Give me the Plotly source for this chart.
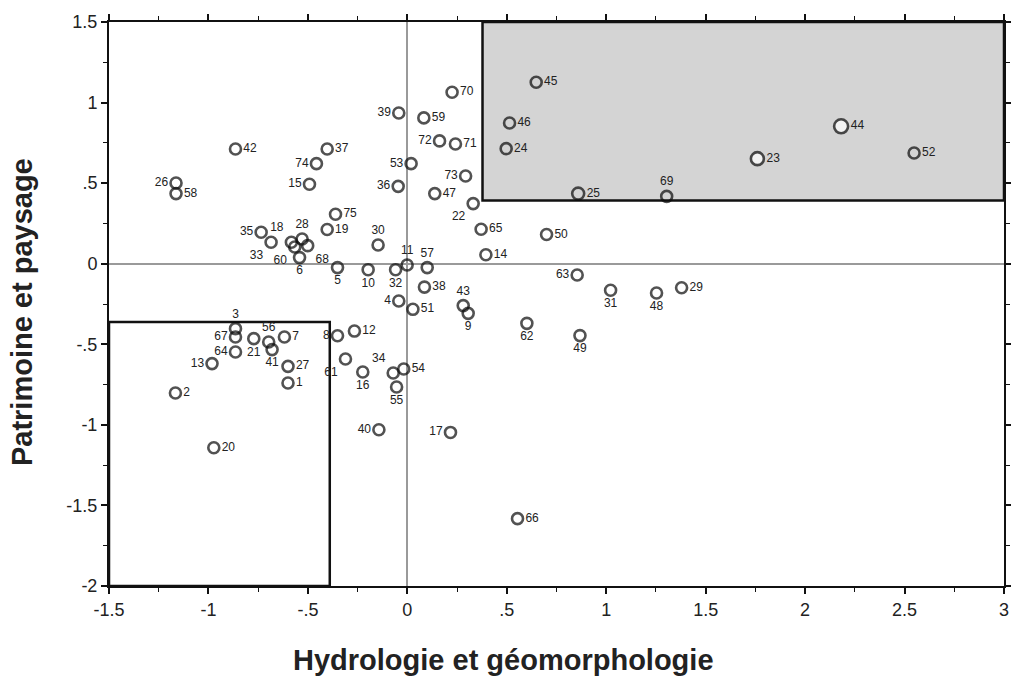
import plotly.graph_objects as go

# ---- data ----
ids = list(range(1, 76))
x_vals = [
    -0.600, -1.166, -0.864, -0.043, -0.351, -0.542, -0.618, -0.351, 0.306, -0.197,
    -0.001, -0.266, -0.982, 0.395, -0.492, -0.224, 0.217, -0.583, -0.403, -0.973,
    -0.772, 0.331, 1.760, 0.497, 0.859, -1.163, -0.600, -0.529, 1.379, -0.147,
    1.022, -0.059, -0.685, -0.071, -0.735, -0.046, -0.403, 0.086, -0.043, -0.143,
    -0.680, -0.864, 0.281, 2.181, 0.648, 0.514, 0.138, 1.253, 0.868, 0.700,
    0.028, 2.548, 0.019, -0.018, -0.054, -0.697, 0.100, -1.163, 0.083, -0.566,
    -0.311, 0.601, 0.854, -0.864, 0.371, 0.554, -0.864, -0.501, 1.304, 0.225,
    0.242, 0.162, 0.293, -0.457, -0.361,
]
y_vals = [
    -0.740, -0.802, -0.403, -0.231, -0.024, 0.038, -0.455, -0.447, -0.308, -0.037,
    -0.008, -0.418, -0.620, 0.056, 0.493, -0.672, -1.047, 0.133, 0.212, -1.142,
    -0.465, 0.373, 0.652, 0.714, 0.435, 0.501, -0.637, 0.153, -0.149, 0.116,
    -0.165, -0.037, 0.133, -0.678, 0.195, 0.480, 0.712, -0.145, 0.935, -1.030,
    -0.533, 0.712, -0.260, 0.853, 1.126, 0.873, 0.435, -0.182, -0.446, 0.181,
    -0.283, 0.687, 0.621, -0.653, -0.765, -0.486, -0.024, 0.435, 0.905, 0.104,
    -0.591, -0.370, -0.070, -0.548, 0.214, -1.582, -0.455, 0.112, 0.418, 1.064,
    0.743, 0.762, 0.544, 0.621, 0.307,
]
label_pos = [
    "middle right", "middle right", "top center", "middle left", "bottom center",
    "bottom center", "middle right", "middle left", "bottom center", "bottom center",
    "top center", "middle right", "middle left", "middle right", "middle left",
    "bottom center", "middle left", "top left", "middle right", "middle right",
    "bottom center", "bottom left", "middle right", "middle right", "middle right",
    "middle left", "middle right", "top center", "middle right", "top center",
    "bottom center", "bottom center", "bottom left", "top left", "middle left",
    "middle left", "middle right", "middle right", "middle left", "middle left",
    "bottom center", "middle right", "top center", "middle right", "middle right",
    "middle right", "middle right", "bottom center", "bottom center", "middle right",
    "middle right", "middle right", "middle left", "middle right", "bottom center",
    "top center", "top center", "middle right", "middle right", "bottom left",
    "bottom left", "bottom center", "middle left", "middle left", "middle right",
    "middle right", "middle left", "bottom right", "top center", "middle right",
    "middle right", "middle left", "middle left", "middle left", "middle right",
]
tick_vals_x = [-1.5, -1, -0.5, 0, 0.5, 1, 1.5, 2, 2.5, 3]
tick_text_x = ["-1.5", "-1", "-.5", "0", ".5", "1", "1.5", "2", "2.5", "3"]
tick_vals_y = [-2, -1.5, -1, -0.5, 0, 0.5, 1, 1.5]
tick_text_y = ["-2", "-1.5", "-1", "-.5", "0", ".5", "1", "1.5"]

# zones
shade_x0, shade_y0 = 0.378, 0.392
box_x1, box_y1 = -0.39, -0.362

# ---- style ----
FONT = "Liberation Sans, Arial, Helvetica, sans-serif"
big = {23: 13, 44: 14, 25: 12}
sizes = [big.get(i, 11) for i in ids]
fills = ["white" if i in (23, 44) else "rgba(0,0,0,0)" for i in ids]

fig = go.Figure()
fig.add_trace(go.Scatter(
    x=x_vals, y=y_vals, mode="markers+text",
    text=[str(i) for i in ids], textposition=label_pos,
    textfont=dict(family=FONT, size=12, color="#222222"),
    marker=dict(symbol="circle", size=sizes, color=fills,
                line=dict(color="#0a0a0a", width=2.6)),
    cliponaxis=False, showlegend=False, hoverinfo="skip",
))

fig.add_shape(type="rect", x0=shade_x0, x1=3, y0=shade_y0, y1=1.5,
              xref="x", yref="y", layer="below",
              fillcolor="#d4d4d4", line=dict(color="#111111", width=2.5))
fig.add_shape(type="rect", x0=-1.5, x1=box_x1, y0=-2, y1=box_y1,
              xref="x", yref="y", layer="below",
              fillcolor="rgba(0,0,0,0)", line=dict(color="#111111", width=2.5))

axis_common = dict(
    showgrid=False, zeroline=True, zerolinecolor="#9a9a9a", zerolinewidth=1.6,
    showline=True, linecolor="#111111", linewidth=2, mirror="ticks",
    ticks="outside", ticklen=6, tickwidth=1.6, tickcolor="#111111",
    tickfont=dict(family=FONT, size=18, color="#222222"),
    minor=dict(dtick=0.25, tick0=0, ticks="outside", ticklen=4,
               tickwidth=1.4, tickcolor="#111111", showgrid=False),
    automargin=False,
)
fig.update_xaxes(range=[-1.5, 3], tickmode="array", tickvals=tick_vals_x,
                 ticktext=tick_text_x, **axis_common)
fig.update_yaxes(range=[-2, 1.5], tickmode="array", tickvals=tick_vals_y,
                 ticktext=tick_text_y, **axis_common)

fig.add_annotation(text="<b>Hydrologie et géomorphologie</b>", xref="paper", yref="paper",
                   x=0.441, y=-0.132, showarrow=False, xanchor="center", yanchor="middle",
                   font=dict(family=FONT, size=29, color="#222222"))
fig.add_annotation(text="<b>Patrimoine et paysage</b>", xref="paper", yref="paper",
                   x=-0.0965, y=0.485, showarrow=False, textangle=-90,
                   xanchor="center", yanchor="middle",
                   font=dict(family=FONT, size=29, color="#222222"))

fig.update_layout(
    width=1011, height=679,
    margin=dict(l=109, r=7, t=22, b=93),
    paper_bgcolor="white", plot_bgcolor="white",
    font=dict(family=FONT),
)

fig.write_html("out.html", config={"displayModeBar": False},
               post_script="document.body.style.margin='0';document.body.style.overflow='hidden';")
